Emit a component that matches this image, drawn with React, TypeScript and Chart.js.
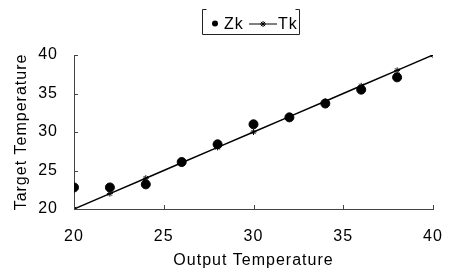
import React, { useEffect, useRef } from "react";
import { Chart, registerables } from "chart.js";

Chart.register(...registerables);

const outputTemps = [20, 22, 24, 26, 28, 30, 32, 34, 36, 38];
const zkValues = [22.8, 22.8, 23.2, 26.1, 28.4, 31.0, 31.9, 33.7, 35.5, 37.1];
const tkX = [20, 22, 24, 26, 28, 30, 32, 34, 36, 38, 40];
const tkValues = [20, 22, 24, 26, 28, 30, 32, 34, 36, 38, 40];
const axisTicks = [20, 25, 30, 35, 40];

const FONT = "'Liberation Sans', Arial, sans-serif";

const spacing = {
  id: "spacing",
  beforeUpdate(chart: any) {
    chart.ctx.letterSpacing = "1px";
  },
  beforeDraw(chart: any) {
    chart.ctx.letterSpacing = "1px";
  },
};

const innerTicks = {
  id: "innerTicks",
  afterDraw(chart: any) {
    const ctx = chart.ctx;
    const xs = chart.scales.x;
    const ys = chart.scales.y;
    const area = chart.chartArea;
    ctx.save();
    ctx.strokeStyle = "#444";
    ctx.lineWidth = 1;
    ctx.beginPath();
    axisTicks.forEach((v) => {
      const px = Math.round(xs.getPixelForValue(v)) + 0.5;
      ctx.moveTo(px, area.bottom);
      ctx.lineTo(px, area.bottom - 4);
      const py = Math.round(ys.getPixelForValue(v)) + 0.5;
      ctx.moveTo(area.left, py);
      ctx.lineTo(area.left + 4, py);
    });
    ctx.stroke();
    ctx.restore();
  },
};

const customLegend = {
  id: "customLegend",
  afterDraw(chart: any) {
    const ctx = chart.ctx;
    ctx.save();
    const left = 202.5, top = 9.5, right = 299.5, bottom = 34.5;
    ctx.strokeStyle = "#222";
    ctx.lineWidth = 1;
    ctx.beginPath();
    ctx.moveTo(left + 4, top);
    ctx.lineTo(left, top);
    ctx.lineTo(left, bottom);
    ctx.lineTo(right, bottom);
    ctx.lineTo(right, top);
    ctx.lineTo(right - 4, top);
    ctx.stroke();
    const cy = 23.5;
    ctx.fillStyle = "#000";
    ctx.beginPath();
    ctx.arc(215, cy, 3, 0, Math.PI * 2);
    ctx.fill();
    ctx.font = `16px ${FONT}`;
    ctx.textBaseline = "middle";
    ctx.textAlign = "left";
    ctx.fillText("Zk", 224, cy + 1);
    ctx.strokeStyle = "#000";
    ctx.beginPath();
    ctx.moveTo(249, cy + 0.5);
    ctx.lineTo(277, cy + 0.5);
    ctx.stroke();
    const sx = 263, r = 3;
    ctx.beginPath();
    for (let i = 0; i < 4; i++) {
      const a = (i * Math.PI) / 4;
      ctx.moveTo(sx - r * Math.cos(a), cy + 0.5 - r * Math.sin(a));
      ctx.lineTo(sx + r * Math.cos(a), cy + 0.5 + r * Math.sin(a));
    }
    ctx.stroke();
    ctx.fillText("Tk", 278, cy + 1);
    ctx.restore();
  },
};

export default function App() {
  const ref = useRef<HTMLCanvasElement>(null);
  useEffect(() => {
    document.body.style.margin = "0";
    const chart = new Chart(ref.current!, {
      type: "scatter",
      data: {
        datasets: [
          {
            label: "Zk",
            data: outputTemps.map((x, i) => ({ x, y: zkValues[i] })),
            pointStyle: "circle",
            pointRadius: 4.5,
            backgroundColor: "#000",
            borderColor: "#000",
            showLine: false,
          },
          {
            label: "Tk",
            data: tkX.map((x, i) => ({ x, y: tkValues[i] })),
            pointStyle: "star",
            pointRadius: 3,
            pointBorderWidth: 1,
            borderWidth: 1.5,
            borderColor: "#000",
            backgroundColor: "#000",
            showLine: true,
          } as any,
        ],
      },
      options: {
        animation: false,
        responsive: false,
        layout: { padding: { top: 55, right: 18, left: 0, bottom: 0 } },
        plugins: { legend: { display: false }, tooltip: { enabled: false } },
        scales: {
          x: {
            type: "linear",
            min: 20,
            max: 40,
            afterFit: (s: any) => {
              s.height = 67;
              s.paddingRight = 0;
              s.paddingLeft = 0;
            },
            afterBuildTicks: (s: any) => {
              s.ticks = axisTicks.map((v) => ({ value: v }));
            },
            grid: { display: false, drawTicks: false },
            border: { display: true, color: "#444", width: 1 },
            ticks: {
              color: "#000",
              padding: 18,
              font: { family: FONT, size: 16 },
            },
            title: {
              display: true,
              text: "Output Temperature",
              color: "#000",
              font: { family: FONT, size: 16 },
              padding: { top: 0, bottom: 6 },
            },
          },
          y: {
            type: "linear",
            min: 20,
            max: 40,
            afterFit: (s: any) => {
              s.width = 74;
              s.paddingTop = 0;
              s.paddingBottom = 0;
            },
            afterBuildTicks: (s: any) => {
              s.ticks = axisTicks.map((v) => ({ value: v }));
            },
            grid: { display: false, drawTicks: false },
            border: { display: true, color: "#444", width: 1 },
            ticks: {
              color: "#000",
              padding: 16,
              font: { family: FONT, size: 16 },
            },
            title: {
              display: true,
              text: "Target Temperature",
              color: "#000",
              font: { family: FONT, size: 16 },
              padding: { top: 12, bottom: 0 },
            },
          },
        },
      },
      plugins: [spacing, innerTicks, customLegend],
    });
    return () => chart.destroy();
  }, []);
  return <canvas ref={ref} width={451} height={276} style={{ display: "block" }} />;
}
